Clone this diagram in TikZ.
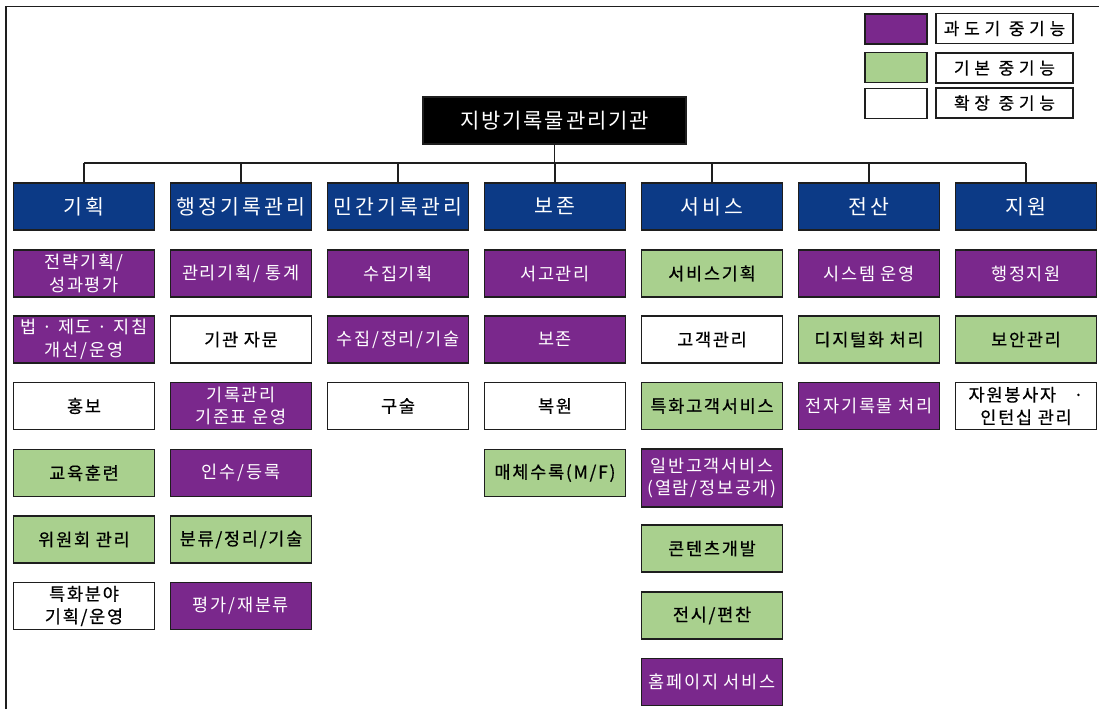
\documentclass[tikz,border=0pt]{standalone}
\usepackage{fontspec}
\setmainfont{Noto Sans CJK KR}
\newfontfamily\hfont[LetterSpace=16]{Noto Sans CJK KR}
\newfontfamily\tfont[LetterSpace=9]{Noto Sans CJK KR}
\newfontfamily\bfont[LetterSpace=10]{Noto Sans CJK KR}
\newfontfamily\dfont[LetterSpace=10,FakeBold=0.6]{Noto Sans CJK KR}
\newfontfamily\lfont[LetterSpace=28,FakeBold=0.5]{Noto Sans CJK KR}
\definecolor{hdr}{RGB}{12,58,134}
\definecolor{purp}{RGB}{122,40,140}
\definecolor{grn}{RGB}{169,208,142}
\definecolor{edge}{RGB}{30,30,30}
\begin{document}
\begin{tikzpicture}[x=1pt,y=1pt,
  base/.style={draw=edge,line width=1.4pt,inner sep=0pt,align=center},
  headbox/.style={base,fill=hdr,text=white,minimum width=141,minimum height=47,font=\hfont\fontsize{20.5}{24}\selectfont},
  topbox/.style={base,fill=black,text=white,minimum width=263,minimum height=47,font=\tfont\fontsize{21}{24}\selectfont},
  pbox/.style={base,fill=purp,text=white,minimum width=141,minimum height=47,font=\bfont\fontsize{17.5}{22.5}\selectfont},
  gbox/.style={base,fill=grn,text=black,minimum width=141,minimum height=47,font=\dfont\fontsize{17.5}{22.5}\selectfont},
  wbox/.style={base,fill=white,text=black,minimum width=141,minimum height=47,font=\dfont\fontsize{17.5}{22.5}\selectfont},
  swatch/.style={base,minimum width=62,minimum height=30},
  legtext/.style={base,fill=white,minimum width=137,minimum height=30,font=\lfont\fontsize{17}{18}\selectfont},
  conn/.style={draw=edge,line width=1.4pt}
]
\useasboundingbox (0,0) rectangle (1099,-709);
% frame
\coordinate (fbl) at (6,-709);
\coordinate (ftl) at (6,-6.5);
\coordinate (ftr) at (1099,-6.5);
\draw[draw=edge,line width=1.6pt] (fbl) -- (ftl) -- (ftr);

% legend
\node[swatch,fill=purp] (s1) at (896,-29) {};
\node[legtext] (l1) at (1004.5,-28.5) {과도기 중기능};
\node[swatch,fill=grn] (s2) at (896,-67.5) {};
\node[legtext] (l2) at (1004.5,-68) {기본 중기능};
\node[swatch,fill=white] (s3) at (896,-103.5) {};
\node[legtext] (l3) at (1004.5,-103) {확장 중기능};

% top
\node[topbox] (top) at (554.5,-120.5) {지방기록물관리기관};

% headers
\node[headbox] (h1) at (84,-206.5) {기획};
\node[headbox] (h2) at (241,-206.5) {행정기록관리};
\node[headbox] (h3) at (398,-206.5) {민간기록관리};
\node[headbox] (h4) at (555,-206.5) {보존};
\node[headbox] (h5) at (712,-206.5) {서비스};
\node[headbox] (h6) at (869,-206.5) {전산};
\node[headbox] (h7) at (1026,-206.5) {지원};

% connectors
\coordinate (bus) at (0,-163);
\draw[conn] (top.south) -- (top.south |- bus);
\draw[conn] (h1.north |- bus) -- (h7.north |- bus);
\foreach \h in {h1,h2,h3,h4,h5,h6,h7}{
  \draw[conn] (\h.north) -- (\h.north |- bus);
}

% column 1
\node[pbox] (a1) at (84,-273.5) {전략기획/\\성과평가};
\node[pbox] (a2) at (84,-339.5) {법 · 제도 · 지침\\개선/운영};
\node[wbox] (a3) at (84,-406) {홍보};
\node[gbox] (a4) at (84,-473) {교육훈련};
\node[gbox] (a5) at (84,-539.5) {위원회 관리};
\node[wbox] (a6) at (84,-606) {특화분야\\기획/운영};

% column 2
\node[pbox] (b1) at (241,-273.5) {관리기획/ 통계};
\node[wbox] (b2) at (241,-339.5) {기관 자문};
\node[pbox] (b3) at (241,-406) {기록관리\\기준표 운영};
\node[pbox] (b4) at (241,-473) {인수/등록};
\node[gbox] (b5) at (241,-539.5) {분류/정리/기술};
\node[pbox] (b6) at (241,-606) {평가/재분류};

% column 3
\node[pbox] (c1) at (398,-273.5) {수집기획};
\node[pbox] (c2) at (398,-339.5) {수집/정리/기술};
\node[wbox] (c3) at (398,-406) {구술};

% column 4
\node[pbox] (d1) at (555,-273.5) {서고관리};
\node[pbox] (d2) at (555,-339.5) {보존};
\node[wbox] (d3) at (555,-406) {복원};
\node[gbox] (d4) at (555,-473) {매체수록(M/F)};

% column 5
\node[gbox] (e1) at (712,-273.5) {서비스기획};
\node[wbox] (e2) at (712,-339.5) {고객관리};
\node[gbox] (e3) at (712,-406) {특화고객서비스};
\node[pbox,minimum height=58] (e4) at (712,-478) {일반고객서비스\\(열람/정보공개)};
\node[gbox] (e5) at (712,-548.5) {콘텐츠개발};
\node[gbox] (e6) at (712,-615.5) {전시/편찬};
\node[pbox] (e7) at (712,-682) {홈페이지 서비스};

% column 6
\node[pbox] (f1) at (869,-273.5) {시스템 운영};
\node[gbox] (f2) at (869,-339.5) {디지털화 처리};
\node[pbox] (f3) at (869,-406) {전자기록물 처리};

% column 7
\node[pbox] (g1) at (1026,-273.5) {행정지원};
\node[gbox] (g2) at (1026,-339.5) {보안관리};
\node[wbox] (g3) at (1026,-406) {자원봉사자\quad ·\\인턴십 관리};
\end{tikzpicture}
\end{document}
